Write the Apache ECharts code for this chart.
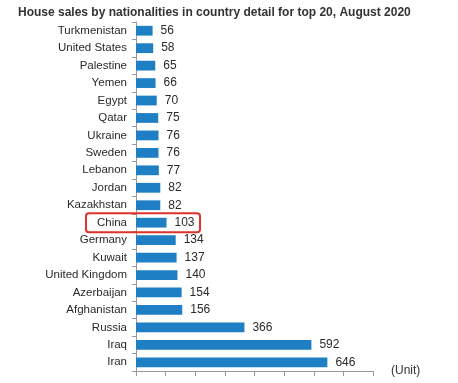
<!DOCTYPE html>
<html>
<head>
<meta charset="utf-8">
<script src="https://cdn.jsdelivr.net/npm/echarts@6/dist/echarts.min.js"></script>
<style>
html,body{margin:0;padding:0;background:#fff;}
#chart{width:458px;height:383px;}
</style>
</head>
<body>
<div id="chart"></div>
<script>
const titleText = 'House sales by nationalities in country detail for top 20, August 2020';
const countries = ['Turkmenistan','United States','Palestine','Yemen','Egypt','Qatar','Ukraine','Sweden','Lebanon','Jordan','Kazakhstan','China','Germany','Kuwait','United Kingdom','Azerbaijan','Afghanistan','Russia','Iraq','Iran'];
const sales = [56,58,65,66,70,75,76,76,77,82,82,103,134,137,140,154,156,366,592,646];
const highlight = 'China';

const chart = echarts.init(document.getElementById('chart'), null, {renderer:'canvas'});
const font = 'Arial, "Liberation Sans", sans-serif';
chart.setOption({
  animation:false,
  backgroundColor:'#fff',
  title:{text:titleText,left:13,top:2,textStyle:{fontFamily:font,fontSize:12,fontWeight:'bold',color:'#333'}},
  grid:{left:136,right:85,top:22,bottom:12,containLabel:false},
  xAxis:{
    type:'value',min:0,max:800,interval:100,
    name:'(Unit)',nameLocation:'end',nameGap:18,
    nameTextStyle:{fontFamily:font,fontSize:12,color:'#333',verticalAlign:'middle'},
    axisLine:{show:true,lineStyle:{color:'#999'}},
    axisTick:{show:true,length:5,inside:false,lineStyle:{color:'#999'}},
    axisLabel:{show:false},
    splitLine:{show:false}
  },
  yAxis:{
    type:'category',data:countries,inverse:true,
    axisLine:{show:true,lineStyle:{color:'#999'}},
    axisTick:{show:true,length:4,lineStyle:{color:'#999'}},
    axisLabel:{fontFamily:font,fontSize:11.5,color:'#2a2a2a',margin:9}
  },
  series:[{
    type:'bar',data:sales,barWidth:'56%',
    itemStyle:{color:'#1f7fc4'},
    label:{show:true,position:'right',distance:8,fontFamily:font,fontSize:12,color:'#2a2a2a'}
  }]
});
const cy = chart.convertToPixel({yAxisIndex:0}, highlight);
chart.setOption({
  graphic:[{type:'rect',shape:{x:86,y:cy-9.5,width:114,height:19,r:3},
    style:{fill:'none',stroke:'#e0302a',lineWidth:2},z:100}]
});
</script>
</body>
</html>
